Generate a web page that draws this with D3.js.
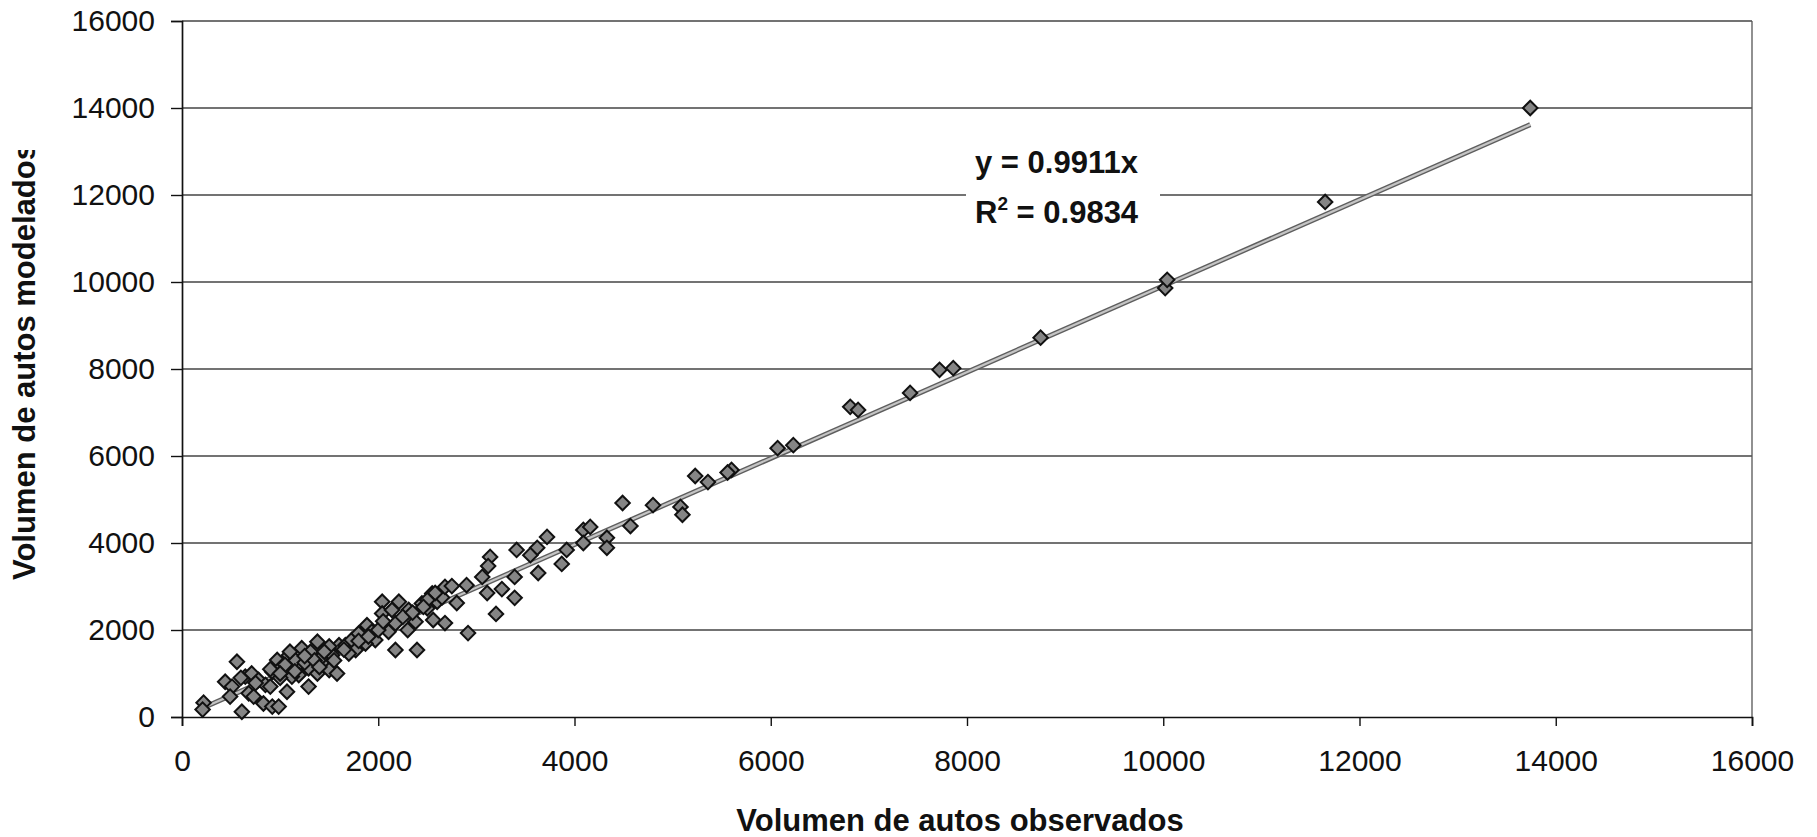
<!DOCTYPE html>
<head>
    <meta charset="utf-8">
    <title>Volumen de autos observados vs modelados</title>
    <script src="https://cdn.jsdelivr.net/npm/d3@7"></script>
    <style>
        body { margin: 0; background: #fff; }
        text { font-family: Arial, "Liberation Sans", sans-serif; fill: #111; }
    </style>
</head>
<body>
<div id="chart"></div>
<script>
const observados = [
    220, 210, 560, 610, 440, 510, 490, 645, 710, 780, 680, 730, 850, 830, 920, 985,
    1070, 1290, 970, 1020, 920, 1090, 1155, 1220, 1310, 1380, 1290, 1380, 1430, 1500,
    1580, 1190, 1120, 1430, 1530, 1600, 1665, 1730, 1800, 1885, 1935, 1770, 1700, 2040,
    2210, 2040, 2140, 2175, 2105, 2310, 2380, 2445, 2550, 2175, 2395, 1970, 1870, 1500,
    600, 750, 900, 1000, 1050, 1150, 1250, 1350, 1450, 1250, 1400, 1550, 1650, 1800,
    1900, 2000, 2050, 2250, 2300, 2350, 2500, 2600, 2650, 1100, 900, 1000,
    5230, 5360, 4490, 4800, 5080, 5100, 4570, 4090, 4160, 3720, 4330, 4330, 4090, 3920,
    3410, 3620, 3550, 3870, 3140, 3120, 3630, 3390, 3060, 2900, 3110, 3260, 3390, 2800,
    2680, 2750, 2580, 2500, 3200, 2915, 2560, 2680, 2460, 5600, 5560,
    6070, 6230, 6810, 6890, 7420, 7720, 7860, 8750, 10020, 10040, 11650, 13740
];
const modelados = [
    330, 170, 1270, 120, 810, 700, 470, 930, 1000, 850, 545, 470, 740, 310, 240, 240,
    580, 700, 1310, 1160, 1040, 1420, 1310, 1580, 1500, 1730, 1120, 1000, 1230, 1080,
    1000, 965, 930, 1390, 1420, 1650, 1650, 1770, 1920, 2110, 1960, 1540, 1460, 2650,
    2650, 2380, 2460, 2150, 1960, 2460, 2190, 2610, 2840, 1540, 1540, 1770, 1690, 1620,
    900, 780, 1100, 900, 1200, 1050, 1250, 1300, 1500, 1400, 1150, 1300, 1550, 1750,
    1850, 2000, 2200, 2300, 2000, 2400, 2500, 2650, 2750, 1500, 700, 1000,
    5540, 5400, 4920, 4870, 4830, 4650, 4390, 4300, 4370, 4140, 4120, 3890, 4000, 3840,
    3840, 3890, 3720, 3520, 3680, 3470, 3310, 3220, 3220, 3030, 2850, 2940, 2740, 2620,
    2990, 3010, 2850, 2690, 2370, 1930, 2230, 2160, 2530, 5680, 5620,
    6180, 6250, 7130, 7060, 7450, 7980, 8020, 8720, 9860, 10050, 11840, 14000
];
const ticks = [0, 2000, 4000, 6000, 8000, 10000, 12000, 14000, 16000];
const pendiente = 0.9911;
const etiquetas = ["y = 0.9911x", "R", "2", " = 0.9834"];

const W = 1817, H = 837;
const mLeft = 182, mRight = 1752, mTop = 21, mBottom = 717;

const data = observados.map((d, i) => ({x: d, y: modelados[i]}));

const x = d3.scaleLinear().domain([0, 16000]).range([mLeft, mRight]);
const y = d3.scaleLinear().domain([0, 16000]).range([mBottom, mTop]);

const svg = d3.select("#chart")
    .append("svg")
    .attr("width", W)
    .attr("height", H);

svg.append("rect").attr("width", W).attr("height", H).attr("fill", "#fff");

// gridlines
svg.append("g")
    .selectAll("line")
    .data(ticks.filter(d => d > 0))
    .join("line")
    .attr("x1", mLeft).attr("x2", mRight)
    .attr("y1", d => y(d)).attr("y2", d => y(d))
    .attr("stroke", "#444")
    .attr("stroke-width", 1.3);

// right border
svg.append("line")
    .attr("x1", mRight).attr("x2", mRight)
    .attr("y1", mTop).attr("y2", mBottom)
    .attr("stroke", "#555")
    .attr("stroke-width", 1.3);

// axes
const yAxis = svg.append("g")
    .attr("transform", `translate(${mLeft},0)`)
    .call(d3.axisLeft(y).tickValues(ticks).tickSize(11).tickPadding(16).tickFormat(d3.format("d")));
const xAxis = svg.append("g")
    .attr("transform", `translate(0,${mBottom})`)
    .call(d3.axisBottom(x).tickValues(ticks).tickSize(9).tickPadding(24).tickFormat(d3.format("d")));

[yAxis, xAxis].forEach(a => {
    a.select(".domain").attr("stroke", "#111").attr("stroke-width", 1.7);
    a.selectAll(".tick line").attr("stroke", "#111").attr("stroke-width", 1.4);
    a.selectAll(".tick text")
        .attr("font-size", 30)
        .attr("font-family", "Arial, 'Liberation Sans', sans-serif")
        .attr("fill", "#111");
});

// trendline y = 0.9911x over the observed range
const ext = d3.extent(observados);
const linea = d3.line().x(d => x(d)).y(d => y(d * pendiente));
svg.append("path")
    .datum(ext)
    .attr("d", linea)
    .attr("fill", "none")
    .attr("stroke", "#5e5e5e")
    .attr("stroke-width", 5);
svg.append("path")
    .datum(ext)
    .attr("d", linea)
    .attr("fill", "none")
    .attr("stroke", "#c4c4c4")
    .attr("stroke-width", 2.2);

// points
svg.append("g")
    .selectAll("path")
    .data(data)
    .join("path")
    .attr("transform", d => `translate(${x(d.x)},${y(d.y)}) rotate(45)`)
    .attr("d", d3.symbol(d3.symbolSquare, 105))
    .attr("fill", "#858585")
    .attr("stroke", "#111")
    .attr("stroke-width", 2);

// equation label
const eq = svg.append("g");
eq.append("rect")
    .attr("x", 966).attr("y", 146)
    .attr("width", 194).attr("height", 84)
    .attr("fill", "#fff");
eq.append("text")
    .attr("x", 975).attr("y", 173)
    .attr("font-size", 31).attr("font-weight", "bold")
    .text(etiquetas[0]);
const r2 = eq.append("text")
    .attr("x", 975).attr("y", 223)
    .attr("font-size", 31).attr("font-weight", "bold");
r2.append("tspan").text(etiquetas[1]);
r2.append("tspan").attr("font-size", 19).attr("dy", -13).text(etiquetas[2]);
r2.append("tspan").attr("dy", 13).text(etiquetas[3]);

// axis titles
svg.append("text")
    .attr("x", 960).attr("y", 831)
    .attr("text-anchor", "middle")
    .attr("font-size", 31).attr("font-weight", "bold")
    .text("Volumen de autos observados");

svg.append("clipPath").attr("id", "clipY")
    .append("rect").attr("x", 0).attr("y", 150).attr("width", 80).attr("height", 600);
svg.append("g")
    .attr("clip-path", "url(#clipY)")
    .append("text")
    .attr("transform", "translate(35,580) rotate(-90)")
    .attr("font-size", 31).attr("font-weight", "bold")
    .text("Volumen de autos modelados");
</script>
</body>
</html>
